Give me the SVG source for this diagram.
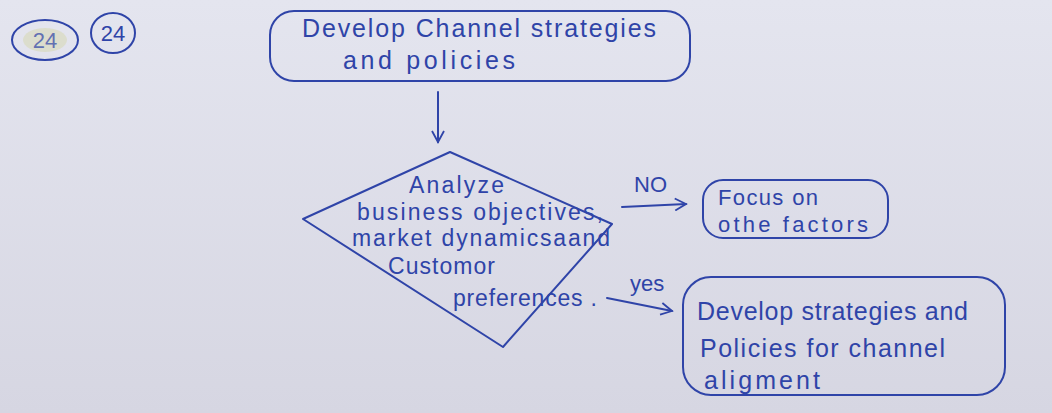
<svg xmlns="http://www.w3.org/2000/svg" width="1052" height="413" viewBox="0 0 1052 413">
<defs>
<linearGradient id="bg" x1="0" y1="0" x2="0" y2="1">
<stop offset="0" stop-color="#e4e5ef"/>
<stop offset="1" stop-color="#d6d6e2"/>
</linearGradient>
<marker id="ah" viewBox="0 0 14 14" refX="12" refY="7" markerWidth="14" markerHeight="14" markerUnits="userSpaceOnUse" orient="auto">
<path d="M1,1 L12,7 L1,13" fill="none" stroke="#2f44a8" stroke-width="1.8"/>
</marker>
</defs>
<style>
.ink{fill:none;stroke:#2f44a8;stroke-width:2;stroke-linejoin:round;stroke-linecap:round}
.t{font-family:"Liberation Sans",Arial,sans-serif;font-size:25px;fill:#2f44a8}
.s{font-size:22px}
.d{font-size:23px}
</style>
<rect width="1052" height="413" fill="url(#bg)"/>
<g id="mark1">
<ellipse class="ink" cx="45" cy="40" rx="33" ry="20"/>
<ellipse cx="45" cy="40" rx="22" ry="12" fill="#d7d9b8" opacity="0.6"/>
<text class="t s" x="45" y="48" text-anchor="middle" opacity="0.7">24</text>
</g>
<g id="mark2">
<ellipse class="ink" cx="113" cy="33" rx="22" ry="20"/>
<text class="t s" x="113" y="41" text-anchor="middle">24</text>
</g>
<g id="start">
<rect class="ink" x="270" y="11" width="420" height="70" rx="24"/>
<text class="t" x="302" y="37" textLength="354" lengthAdjust="spacing">Develop Channel strategies</text>
<text class="t" x="343" y="69" textLength="172" lengthAdjust="spacing">and policies</text>
</g>
<g id="decision">
<polygon class="ink" points="450,152 612,224 503,347 303,219"/>
<text class="t d" x="409" y="193" textLength="95" lengthAdjust="spacing">Analyze</text>
<text class="t d" x="357" y="220" textLength="246" lengthAdjust="spacing">business objectives,</text>
<text class="t d" x="352" y="246" textLength="258" lengthAdjust="spacing">market dynamicsaand</text>
<text class="t d" x="388" y="274" textLength="107" lengthAdjust="spacing">Customor</text>
<text class="t d" x="453" y="306" textLength="144" lengthAdjust="spacing">preferences .</text>
</g>
<g id="other">
<rect class="ink" x="703" y="180" width="185" height="58" rx="20"/>
<text class="t s" x="718" y="205" textLength="100" lengthAdjust="spacing">Focus on</text>
<text class="t s" x="718" y="232" textLength="150" lengthAdjust="spacing">othe factors</text>
</g>
<g id="align">
<rect class="ink" x="683" y="277" width="322" height="118" rx="28"/>
<text class="t" x="697" y="320" textLength="271" lengthAdjust="spacing">Develop strategies and</text>
<text class="t" x="700" y="357" textLength="245" lengthAdjust="spacing">Policies for channel</text>
<text class="t" x="704" y="389" textLength="116" lengthAdjust="spacing">aligment</text>
</g>
<g id="connectors">
<line class="ink" x1="438" y1="92" x2="438" y2="142" marker-end="url(#ah)"/>
<line class="ink" x1="622" y1="207" x2="686" y2="204" marker-end="url(#ah)"/>
<text class="t s" x="634" y="192">NO</text>
<line class="ink" x1="607" y1="298" x2="672" y2="311" marker-end="url(#ah)"/>
<text class="t s" x="630" y="291">yes</text>
</g>
</svg>
